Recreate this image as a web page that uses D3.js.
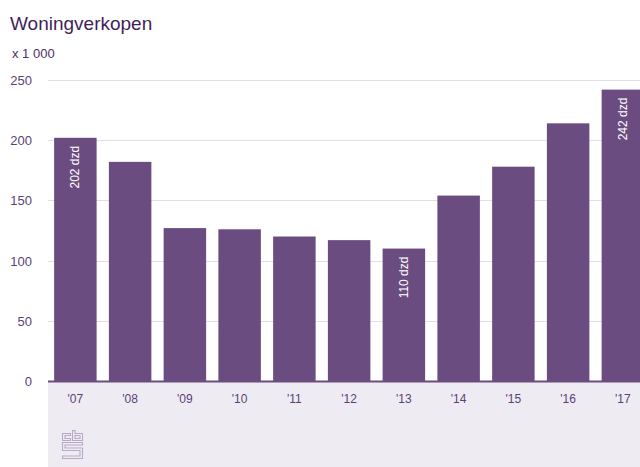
<!DOCTYPE html>
<html><head><meta charset="utf-8">
<script src="https://cdn.jsdelivr.net/npm/d3@7"></script>
<style>body{margin:0;background:#fff;overflow:hidden}svg{display:block;font-family:Arial,"Liberation Sans",sans-serif}</style>
</head><body>
<svg id="c" width="640" height="467"></svg>
<script>
const categories = ["'07","'08","'09","'10","'11","'12","'13","'14","'15","'16","'17"];
const values = [202, 182, 127, 126, 120, 117, 110, 154, 178, 214, 242];
const barLabels = {"'07":"202 dzd","'13":"110 dzd","'17":"242 dzd"};
const yTicks = [0, 50, 100, 150, 200, 250];

(function(){
const svg = d3.select("#c");
const mLeft = 48, mTop = 80, mBottom = 381;
const x = d3.scaleBand().domain(categories).range([mLeft, mLeft + 11*54.75]).paddingInner(0.224).paddingOuter(0.112);
const y = d3.scaleLinear().domain([0, 250]).range([mBottom, mTop]);

// bottom panel
svg.append("rect").attr("x", mLeft).attr("y", mBottom).attr("width", 640-mLeft).attr("height", 467-mBottom).attr("fill", "#efebf3");

// grid
svg.append("g").selectAll("line").data(yTicks.filter(d=>d>0)).join("line")
  .attr("x1", mLeft).attr("x2", 640).attr("y1", d=>Math.round(y(d))+0.5).attr("y2", d=>Math.round(y(d))+0.5)
  .attr("stroke", "#e2dde8").attr("stroke-width", 1);

// y labels
svg.append("g").selectAll("text").data(yTicks).join("text")
  .attr("x", 32).attr("y", d=>y(d)+5).attr("text-anchor", "end")
  .attr("font-size", 13).attr("fill", "#5b3f78").text(d=>d);

// bars
svg.append("g").selectAll("rect").data(values).join("rect")
  .attr("x", (d,i)=>x(categories[i])).attr("width", x.bandwidth())
  .attr("y", d=>y(d)).attr("height", d=>mBottom - y(d)).attr("fill", "#6a4c80");

// bar labels
svg.append("g").selectAll("text").data(categories.filter(c=>barLabels[c])).join("text")
  .attr("transform", c=>{const i=categories.indexOf(c);return `translate(${x(c)+x.bandwidth()/2+4},${y(values[i])+8}) rotate(-90)`;})
  .attr("text-anchor", "end").attr("font-size", 12).attr("fill", "#fff").text(c=>barLabels[c]);

// axis line
svg.append("line").attr("x1", mLeft).attr("x2", 640).attr("y1", mBottom+0.5).attr("y2", mBottom+0.5)
  .attr("stroke", "#6a4c80").attr("stroke-width", 2);

// x labels
svg.append("g").selectAll("text").data(categories).join("text")
  .attr("x", c=>x(c)+x.bandwidth()/2).attr("y", 403).attr("text-anchor", "middle")
  .attr("font-size", 12).attr("fill", "#5b3f78").text(c=>c);

// title
svg.append("text").attr("x", 10).attr("y", 30).attr("font-size", 19).attr("fill", "#3f1f5c").text("Woningverkopen");
svg.append("text").attr("x", 12).attr("y", 58).attr("font-size", 13).attr("fill", "#4d2f6b").text("x 1 000");

// CBS logo
const lg = svg.append("g").attr("transform", "translate(62.5,430.5)").attr("fill","none").attr("stroke","#b9a9c9").attr("stroke-width",1.1);
// c
lg.append("path").attr("d","M0,3 H8 V5 H2.5 V8 H8 V10 H0 Z");
// b
lg.append("path").attr("d","M10,0 H12.5 V3 H20 V10 H10 Z M12.5,5 V8 H17.5 V5 Z");
// S
lg.append("path").attr("d","M0,12 H20 V14.5 H2.5 V17.5 H20 V28 H0 V25.5 H17.5 V20 H0 Z");
})();
</script>
</body></html>
